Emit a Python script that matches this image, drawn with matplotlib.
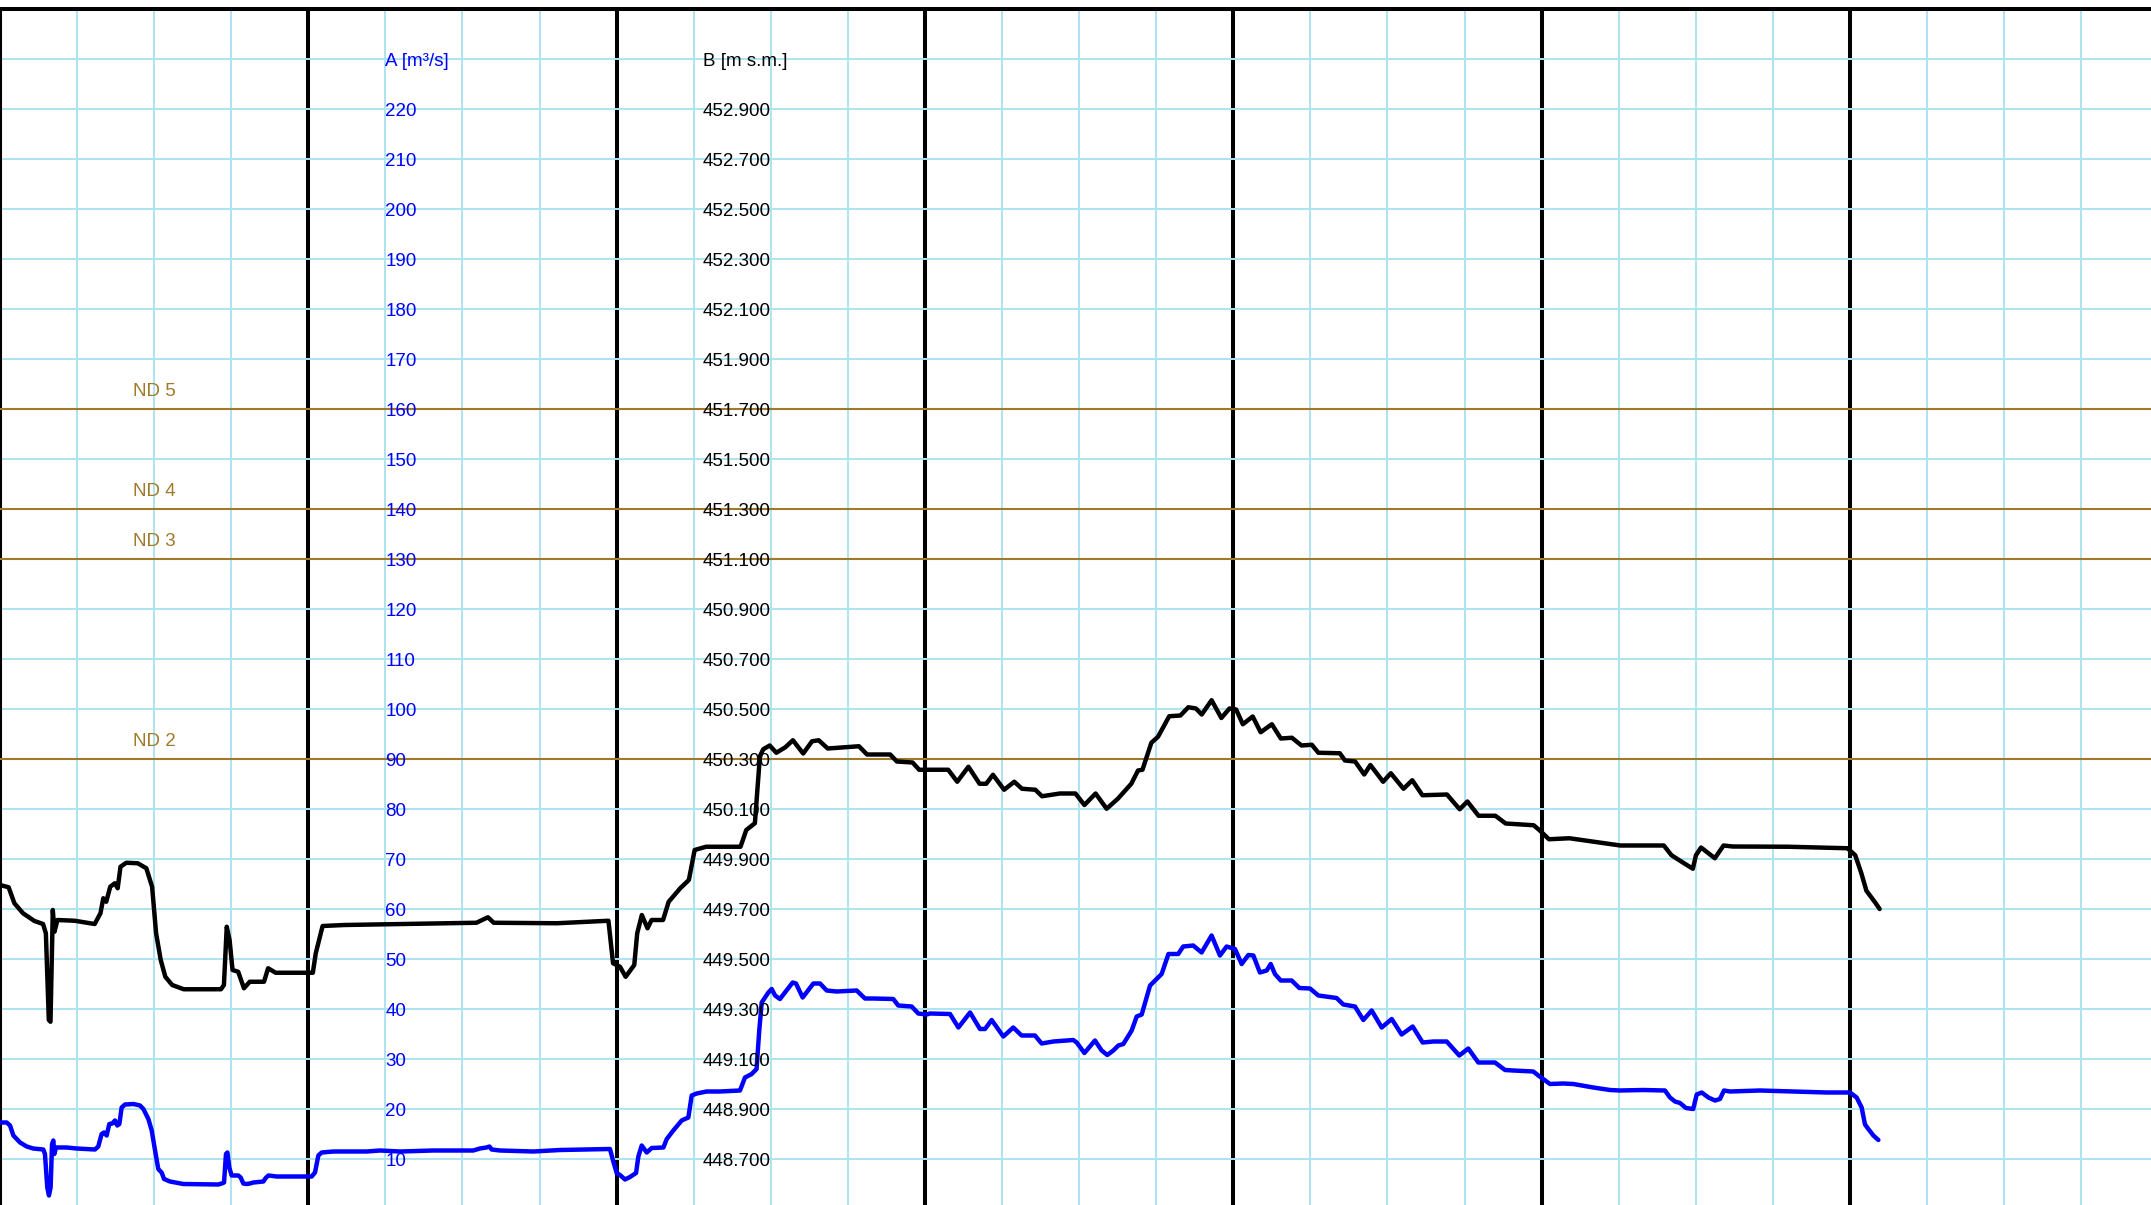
import numpy as np
import matplotlib
matplotlib.use("Agg")
import matplotlib.pyplot as plt

plt.rcParams['font.family'] = ['Liberation Sans', 'DejaVu Sans']

# series A (blue, m3/s) - hours from left edge
time_a = [0, 0.52, 0.78, 1.04, 1.56, 2.08, 2.59, 3.37, 3.50, 3.68, 3.81, 3.94, 4.05, 4.15, 4.23, 4.36,
          5.19, 5.97, 7.39, 7.65, 7.91, 8.10, 8.30, 8.51, 8.74, 8.95, 9.13, 9.29, 9.47, 9.73, 10.38,
          10.90, 11.16, 11.55, 11.81, 12.07, 12.32, 12.58, 12.77, 13.23, 14.27, 17.0, 17.25, 17.44,
          17.59, 17.70, 17.85, 18.03, 18.55, 18.73, 18.94, 19.20, 19.46, 19.72, 20.50, 20.68, 20.89,
          21.54, 24.26, 24.52, 24.78, 25.04, 25.94, 28.54, 29.58, 31.13, 33.73, 36.84, 37.36, 37.87,
          38.10, 38.27, 38.92, 41.52, 43.59, 45.41, 47.48, 47.74, 48.0, 48.26, 48.65, 49.04, 49.51,
          49.69, 49.95, 50.34, 50.73, 51.64, 51.90, 52.41, 53.06, 53.58, 53.84, 54.23, 55.0, 56.04,
          57.6, 57.99, 58.51, 58.89, 59.10, 59.29, 59.81, 60.07, 60.33, 60.71, 61.10, 61.70, 61.96,
          62.48, 62.92, 63.31, 63.83, 64.35, 65.12, 66.68, 67.33, 67.98, 69.53, 69.92, 70.96, 71.48,
          72.13, 72.39, 73.95, 74.60, 75.51, 76.28, 76.67, 77.19, 78.10, 78.87, 79.52, 80.56, 81.08,
          81.99, 83.54, 83.81, 84.41, 85.23, 85.75, 86.19, 86.66, 87.05, 87.44, 88.09, 88.48, 88.87,
          89.52, 90.03, 90.42, 90.95, 91.71, 92.10, 92.88, 93.53, 94.31, 94.96, 95.48, 96.13, 96.65,
          97.17, 97.56, 98.07, 98.60, 98.91, 99.24, 99.69, 100.54, 101.14, 101.97, 102.62, 104.04,
          104.56, 105.47, 106.12, 106.77, 107.55, 108.33, 109.10, 109.96, 110.74, 111.57, 112.61,
          113.59, 114.29, 115.07, 116.37, 117.15, 117.79, 119.35, 119.74, 120.65, 121.69, 122.47,
          124.02, 125.32, 126.10, 127.91, 129.60, 129.99, 130.38, 130.77, 131.23, 131.80, 132.07,
          132.46, 132.98, 133.49, 133.88, 134.19, 134.66, 136.99, 139.59, 142.18, 144.0, 144.52,
          144.91, 145.17, 145.43, 145.82, 146.21]
flow_a = [17.3, 17.3, 16.7, 14.7, 13.3, 12.5, 12.1, 11.9, 11.0, 4.3, 2.7, 4.3, 13.0, 13.7, 11.0, 12.3,
          12.3, 12.1, 11.9, 12.5, 15.0, 15.3, 14.7, 17.0, 17.1, 17.7, 16.7, 17.0, 20.3, 20.9, 21.0,
          20.7, 20.0, 18.0, 15.7, 11.7, 8.0, 7.3, 6.0, 5.5, 5.0, 4.9, 5.1, 5.3,
          11.0, 11.3, 8.3, 6.7, 6.7, 6.3, 5.1, 5.0, 5.1, 5.3, 5.5, 6.2, 6.7,
          6.5, 6.5, 7.3, 10.7, 11.3, 11.5, 11.5, 11.7, 11.5, 11.7, 11.7, 12.1, 12.3,
          12.5, 11.9, 11.7, 11.5, 11.8, 11.9, 12.0, 9.5, 7.2, 6.8, 5.9, 6.4, 7.2,
          10.5, 12.7, 11.3, 12.2, 12.3, 14.0, 15.7, 17.7, 18.3, 22.7, 23.1, 23.5, 23.5,
          23.7, 26.3, 27.0, 28.0, 35.7, 41.3, 43.3, 44.0, 42.7, 42.0, 43.3, 45.3, 45.1,
          42.3, 43.8, 45.1, 45.1, 43.7, 43.5, 43.7, 42.1, 42.1, 42.0, 40.7, 40.5, 39.1,
          38.9, 39.1, 39.0, 36.3, 39.3, 36.0, 36.0, 37.8, 34.5, 36.3, 34.7, 34.7, 33.1,
          33.5, 33.8, 33.3, 31.2, 33.7, 31.7, 30.8, 31.7, 32.7, 33.0, 35.7, 38.5, 38.9,
          44.7, 46.0, 47.0, 51.0, 51.0, 52.5, 52.7, 51.3, 54.7, 50.7, 52.5, 52.0, 49.0,
          50.8, 50.7, 47.3, 47.7, 49.0, 47.0, 45.7, 45.7, 44.2, 44.1, 42.7, 42.2,
          40.9, 40.5, 37.8, 39.7, 36.3, 38.0, 34.9, 36.5, 33.3, 33.5, 33.5,
          30.7, 32.1, 29.3, 29.3, 27.8, 27.7, 27.5, 26.7, 25.0, 25.1, 25.0,
          24.3, 23.8, 23.7, 23.8, 23.7, 22.3, 21.5, 21.2, 20.2, 20.0, 22.9,
          23.3, 22.3, 21.7, 22.0, 23.7, 23.5, 23.7, 23.5, 23.3, 23.3, 22.3,
          20.3, 16.9, 16.0, 14.7, 13.8]

# series B (black, m s.m.)
time_b = [0, 0.67, 1.12, 1.79, 2.68, 3.35, 3.57, 3.80, 3.93, 4.11, 4.24, 4.47, 5.81, 7.37, 7.82, 8.04,
          8.27, 8.58, 8.94, 9.16, 9.38, 9.83, 10.72, 11.39, 11.84, 12.15, 12.51, 12.87, 13.40, 14.30,
          17.20, 17.43, 17.65, 17.87, 18.10, 18.54, 18.99, 19.44, 20.55, 20.87, 21.45, 24.35, 24.58,
          25.11, 26.81, 31.28, 37.09, 37.98, 38.43, 43.34, 47.36, 47.72, 48.26, 48.70, 49.37, 49.60,
          49.96, 50.40, 50.72, 51.61, 52.05, 52.95, 53.62, 54.07, 54.96, 57.64, 58.09, 58.76, 59.15,
          59.41, 59.91, 60.43, 61.13, 61.72, 62.52, 63.21, 63.73, 64.43, 66.86, 67.49, 69.29, 69.81,
          71.03, 71.55, 73.81, 74.51, 75.38, 76.25, 76.77, 77.29, 78.16, 78.95, 79.55, 80.59, 81.11,
          82.50, 83.71, 84.41, 85.28, 86.14, 87.01, 88.06, 88.58, 88.93, 89.62, 90.14, 91.01, 91.88,
          92.50, 93.09, 93.54, 94.31, 95.07, 95.70, 96.22, 96.74, 97.51, 98.13, 99.00, 99.70, 100.56,
          101.31, 102.11, 102.62, 104.29, 104.69, 105.48, 106.19, 106.67, 107.66, 108.26, 109.25,
          109.93, 110.72, 112.63, 113.62, 114.22, 115.09, 116.40, 117.20, 119.38, 119.86, 120.57,
          122.16, 125.34, 126.13, 129.51, 130.11, 130.90, 131.77, 132.01, 132.41, 133.48, 134.16,
          134.87, 139.24, 143.81, 144.41, 144.88, 145.28, 145.99, 146.31]
level_b = [449.796, 449.787, 449.723, 449.683, 449.652, 449.640, 449.603, 449.256, 449.249, 449.696,
           449.609, 449.656, 449.653, 449.640, 449.683, 449.743, 449.729, 449.789, 449.803, 449.783,
           449.869, 449.885, 449.883, 449.863, 449.789, 449.603, 449.496, 449.429, 449.396, 449.379,
           449.379, 449.396, 449.629, 449.576, 449.456, 449.449, 449.383, 449.409, 449.409, 449.463,
           449.445, 449.445, 449.523, 449.632, 449.636, 449.640, 449.645, 449.667, 449.645, 449.643,
           449.653, 449.483, 449.469, 449.429, 449.476, 449.603, 449.676, 449.623, 449.656, 449.656,
           449.729, 449.783, 449.816, 449.936, 449.949, 449.949, 450.016, 450.043, 450.311, 450.339,
           450.354, 450.325, 450.347, 450.375, 450.322, 450.371, 450.375, 450.342, 450.351, 450.318,
           450.318, 450.290, 450.286, 450.257, 450.257, 450.209, 450.269, 450.201, 450.201, 450.237,
           450.177, 450.209, 450.181, 450.177, 450.151, 450.162, 450.162, 450.116, 450.162, 450.101,
           450.141, 450.201, 450.254, 450.257, 450.365, 450.389, 450.471, 450.474, 450.507, 450.502,
           450.478, 450.535, 450.464, 450.502, 450.498, 450.439, 450.470, 450.407, 450.439, 450.382,
           450.385, 450.354, 450.357, 450.325, 450.323, 450.294, 450.290, 450.238, 450.276, 450.209,
           450.243, 450.181, 450.215, 450.155, 450.158, 450.099, 450.130, 450.073, 450.073, 450.042,
           450.035, 450.014, 449.979, 449.983, 449.960, 449.954, 449.954, 449.915, 449.889, 449.861,
           449.915, 449.946, 449.903, 449.954, 449.950, 449.949, 449.943, 449.915, 449.844, 449.773,
           449.724, 449.700]

a_ticks = np.arange(10, 221, 10)
b_ticks = np.round(np.arange(448.7, 452.95, 0.2), 1)
nd_levels = [90, 130, 140, 160]
nd_labels = ['ND 2', 'ND 3', 'ND 4', 'ND 5']
day_lines = [0, 24, 48, 72, 96, 120, 144, 168]

grid_c = '#aee3f0'
nd_c = '#a07a28'
fs = 13.5

fig = plt.figure(figsize=(21.51, 12.05), dpi=100)
ax = fig.add_axes([0, -0.00332, 1.0, 0.99585])
ax.set_xlim(0, 2151 / 12.847)
ax.set_ylim(0, 240)
ax.set_xticks(np.arange(0, 168, 6))
ax.set_yticks(np.arange(0, 241, 10))
ax.tick_params(length=0, labelleft=False, labelbottom=False)
ax.grid(True, color=grid_c, lw=1.4, zorder=2)
ax.set_axisbelow(True)
for s in ['right', 'bottom']:
    ax.spines[s].set_visible(False)
ax.spines['top'].set_linewidth(2.9)
ax.spines['left'].set_linewidth(2.9)

for d in day_lines:
    ax.axvline(d, color='black', lw=2.9, zorder=1)
# horizontal grid over the day lines
for v in np.arange(0, 241, 10):
    ax.axhline(v, color=grid_c, lw=1.4, zorder=1.5)

for lv, lab in zip(nd_levels, nd_labels):
    ax.axhline(lv, color=nd_c, lw=1.5, zorder=3)
    ax.text(12, lv + 3.6, lab, color=nd_c, fontsize=fs, ha='center', va='center', zorder=5)

ax.plot(time_a, flow_a, color='#0000ff', lw=3.2, zorder=6,
        solid_capstyle='round', solid_joinstyle='round')

ax.text(30, 229.5, 'A [m³/s]', color='#0000ff', fontsize=fs, ha='left', va='center', zorder=5)
for v in a_ticks:
    ax.text(30, v - 0.5, str(v), color='#0000ff', fontsize=fs, ha='left', va='center', zorder=5)

ax2 = ax.twinx()
ax2.set_ylim(448.5, 453.3)
ax2.set_axis_off()
ax2.plot(time_b, level_b, color='black', lw=3.2, zorder=6,
         solid_capstyle='round', solid_joinstyle='round')
ax2.text(54.7, 453.09, 'B [m s.m.]', color='black', fontsize=fs, ha='left', va='center')
for v in b_ticks:
    ax2.text(54.7, v - 0.01, '%.3f' % v, color='black', fontsize=fs, ha='left', va='center')

fig.savefig('out.png', dpi=100)
